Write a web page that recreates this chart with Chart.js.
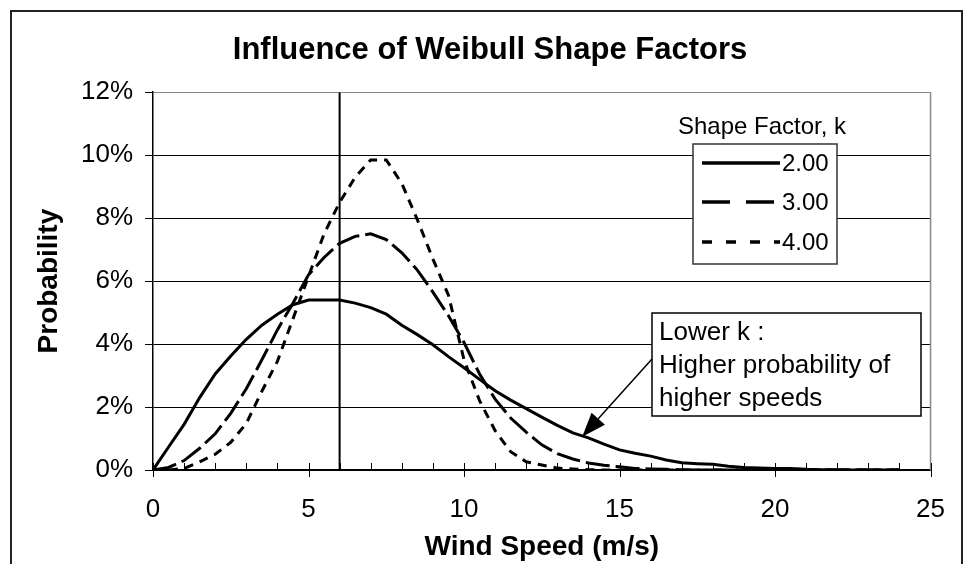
<!DOCTYPE html>
<html>
<head>
<meta charset="utf-8">
<script src="https://cdn.jsdelivr.net/npm/chart.js@4.4.1/dist/chart.umd.min.js"></script>
<style>
  html, body { margin: 0; padding: 0; background: #fff; }
  canvas { display: block; }
</style>
</head>
<body>
<canvas id="chart1" width="969" height="564"></canvas>
<script>
"use strict";

// wind speed (m/s), every 0.5
var speeds = [0, 0.5, 1, 1.5, 2, 2.5, 3, 3.5, 4, 4.5, 5, 5.5, 6, 6.5, 7, 7.5, 8, 8.5, 9, 9.5,
  10, 10.5, 11, 11.5, 12, 12.5, 13, 13.5, 14, 14.5, 15, 15.5, 16, 16.5, 17, 17.5, 18, 18.5, 19, 19.5,
  20, 20.5, 21, 21.5, 22, 22.5, 23, 23.5, 24];

// probability (%)
var probK2 = [0, 0.73, 1.45, 2.3, 3.05, 3.62, 4.15, 4.6, 4.95, 5.25, 5.4, 5.4, 5.4, 5.3, 5.16, 4.95, 4.6, 4.3, 3.98, 3.6,
  3.25, 2.88, 2.52, 2.22, 1.95, 1.68, 1.42, 1.18, 1.02, 0.82, 0.64, 0.53, 0.44, 0.32, 0.23, 0.2, 0.18, 0.12, 0.08, 0.06,
  0.05, 0.05, 0.02, 0.01, 0.01, 0, 0, 0, 0];
var probK3 = [0, 0.08, 0.3, 0.69, 1.15, 1.8, 2.58, 3.5, 4.45, 5.3, 6.2, 6.75, 7.2, 7.42, 7.5, 7.32, 6.9, 6.35, 5.65, 4.9,
  4.05, 3.05, 2.25, 1.65, 1.2, 0.8, 0.52, 0.35, 0.22, 0.15, 0.1, 0.05, 0.03, 0.02, 0.01, 0, 0, 0, 0, 0,
  0, 0, 0, 0, 0, 0, 0, 0, 0];
var probK4 = [0, 0, 0.05, 0.26, 0.5, 0.88, 1.48, 2.5, 3.45, 4.8, 6.15, 7.5, 8.5, 9.3, 9.85, 9.85, 9.1, 7.95, 6.7, 5.55,
  3.5, 2.2, 1.25, 0.58, 0.26, 0.16, 0.06, 0.03, 0.01, 0, 0, 0, 0, 0, 0, 0, 0, 0, 0, 0,
  0, 0, 0, 0, 0, 0, 0, 0, 0];

var shapeLabels = ['2.00', '3.00', '4.00'];
var avgSpeed = [6, 6];
var avgLineProb = [0, 12];
var xLabelTicks = [0, 5, 10, 15, 20, 25];
var arrowTip = [13.8, 1.06];

var FONT = "'Liberation Sans', Arial, sans-serif";

function pts(xs, ys) {
  return xs.map(function (x, i) { return { x: x, y: ys[i] }; });
}

var extras = {
  id: 'extras',
  beforeDraw: function (chart) {
    var c = chart.ctx;
    c.save();
    c.fillStyle = '#fff';
    c.fillRect(0, 0, chart.width, chart.height);
    c.restore();
  },
  afterDraw: function (chart) {
    var c = chart.ctx;
    var xs = chart.scales.x, ys = chart.scales.y;
    var a = chart.chartArea;
    c.save();

    // plot right border
    c.strokeStyle = '#888';
    c.lineWidth = 1.5;
    c.beginPath();
    c.moveTo(a.right, a.top);
    c.lineTo(a.right, a.bottom);
    c.stroke();

    // x tick marks: minor inward, major across
    c.strokeStyle = '#000';
    c.lineWidth = 1;
    for (var v = 0; v <= 25; v++) {
      var px = Math.round(xs.getPixelForValue(v)) + 0.5;
      c.beginPath();
      c.moveTo(px, a.bottom - 7);
      c.lineTo(px, v % 5 === 0 ? a.bottom + 7 : a.bottom);
      c.stroke();
    }

    // legend
    var ds = chart.data.datasets;
    c.font = '24px ' + FONT;
    c.fillStyle = '#000';
    c.textAlign = 'center';
    c.textBaseline = 'middle';
    c.fillText('Shape Factor, k', 762, 127);
    c.fillStyle = '#fff';
    c.fillRect(693, 144, 144, 120);
    c.strokeStyle = '#333';
    c.lineWidth = 1.5;
    c.strokeRect(693, 144, 144, 120);
    var rows = [163, 202, 242];
    var legendDash = [[], [28, 16], [10, 14]];
    c.textAlign = 'left';
    for (var i = 0; i < 3; i++) {
      c.strokeStyle = '#000';
      c.lineWidth = 3.5;
      c.setLineDash(legendDash[i]);
      c.beginPath();
      c.moveTo(702, rows[i]);
      c.lineTo(780, rows[i]);
      c.stroke();
      c.setLineDash([]);
      c.fillStyle = '#000';
      c.fillText(ds[i].label, 782, rows[i] + 1);
    }

    // annotation box
    c.fillStyle = '#fff';
    c.fillRect(652, 313, 269, 103);
    c.strokeStyle = '#000';
    c.lineWidth = 1.5;
    c.strokeRect(652, 313, 269, 103);
    c.fillStyle = '#000';
    c.font = '26px ' + FONT;
    c.fillText('Lower k :', 659, 333);
    c.fillText('Higher probability of', 659, 366);
    c.fillText('higher speeds', 659, 399);

    // arrow
    var tx = xs.getPixelForValue(arrowTip[0]);
    var ty = ys.getPixelForValue(arrowTip[1]);
    var sx = 652, sy = 359;
    var ang = Math.atan2(ty - sy, tx - sx);
    var hl = 24, hw = 9;
    var bx = tx - hl * Math.cos(ang), by = ty - hl * Math.sin(ang);
    c.lineWidth = 1.5;
    c.beginPath();
    c.moveTo(sx, sy);
    c.lineTo(bx, by);
    c.stroke();
    c.beginPath();
    c.moveTo(tx, ty);
    c.lineTo(bx + hw * Math.sin(ang), by - hw * Math.cos(ang));
    c.lineTo(bx - hw * Math.sin(ang), by + hw * Math.cos(ang));
    c.closePath();
    c.fill();

    // outer frame
    c.strokeStyle = '#222';
    c.lineWidth = 2;
    c.strokeRect(11, 11, 951, 600);
    c.restore();
  }
};

var ctx = document.getElementById('chart1').getContext('2d');
var myChart = new Chart(ctx, {
  type: 'line',
  data: {
    datasets: [{
      label: shapeLabels[0],
      data: pts(speeds, probK2),
      borderColor: '#000',
      borderWidth: 3,
      pointRadius: 0,
      tension: 0
    },
    {
      label: shapeLabels[1],
      data: pts(speeds, probK3),
      borderColor: '#000',
      borderWidth: 3,
      borderDash: [24, 6],
      pointRadius: 0,
      tension: 0
    },
    {
      label: shapeLabels[2],
      data: pts(speeds, probK4),
      borderColor: '#000',
      borderWidth: 3,
      borderDash: [9, 7],
      pointRadius: 0,
      tension: 0
    },
    {
      label: 'Avg',
      data: pts(avgSpeed, avgLineProb),
      borderColor: '#000',
      borderWidth: 2,
      pointRadius: 0
    }]
  },
  options: {
    responsive: false,
    animation: false,
    devicePixelRatio: 1,
    layout: { padding: { left: 44, right: 33, top: 0, bottom: 0 } },
    plugins: {
      legend: { display: false },
      tooltip: { enabled: false },
      title: {
        display: true,
        text: 'Influence of Weibull Shape Factors',
        color: '#000',
        font: { family: FONT, size: 31, weight: 'bold' },
        padding: { top: 32, bottom: 23 }
      }
    },
    scales: {
      x: {
        type: 'linear',
        min: 0,
        max: 25,
        afterFit: function (s) { s.height = 94; },
        ticks: {
          stepSize: 1,
          autoSkip: false,
          maxRotation: 0,
          padding: 24,
          color: '#000',
          font: { family: FONT, size: 26 },
          callback: function (v) { return xLabelTicks.indexOf(v) >= 0 ? String(v) : ''; }
        },
        grid: { drawOnChartArea: false, drawTicks: false },
        border: { display: true, color: '#000', width: 1.5 },
        title: {
          display: true,
          text: 'Wind Speed (m/s)',
          color: '#000',
          font: { family: FONT, size: 28, weight: 'bold' },
          padding: { top: 0, bottom: 0 }
        }
      },
      y: {
        min: 0,
        max: 12,
        afterFit: function (s) { s.width = 109; },
        ticks: {
          stepSize: 2,
          padding: 12,
          color: '#000',
          font: { family: FONT, size: 26 },
          callback: function (v) { return v + '%'; }
        },
        grid: {
          color: function (c) { return c.tick && c.tick.value === 12 ? '#888' : '#000'; },
          lineWidth: 1,
          tickLength: 8,
          tickColor: '#000'
        },
        border: { display: true, color: '#000', width: 1.5 },
        title: {
          display: true,
          text: 'Probability',
          color: '#000',
          font: { family: FONT, size: 28, weight: 'bold' },
          padding: { top: -12, bottom: 0 }
        }
      }
    }
  },
  plugins: [extras]
});
</script>
</body>
</html>
